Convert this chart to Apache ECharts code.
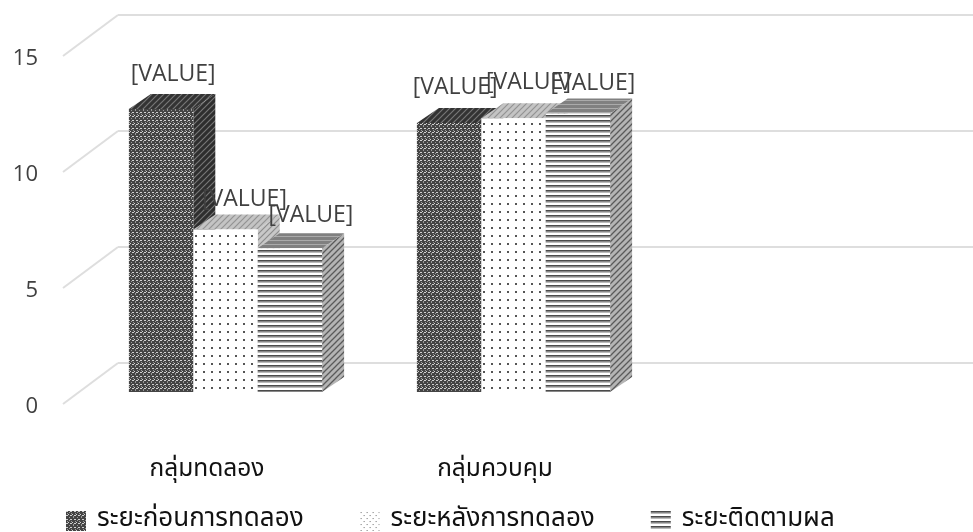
<!DOCTYPE html>
<html>
<head>
<meta charset="utf-8">
<style>html,body{margin:0;padding:0;background:#fff}#chart{width:973px;height:532px}</style>
<script src="https://cdn.jsdelivr.net/npm/echarts@6/dist/echarts.min.js"></script>
</head>
<body>
<div id="chart"></div>
<script>
const categories = ['กลุ่มทดลอง', 'กลุ่มควบคุม', ''];
const periods = ['ระยะก่อนการทดลอง', 'ระยะหลังการทดลอง', 'ระยะติดตามผล'];
const beforeValues = [12.2, 11.6];
const afterValues = [7.0, 11.8];
const followValues = [6.2, 12.0];
const yTicks = [0, 5, 10, 15];
const labelText = '[VALUE]';

const THAI = '"Noto Sans Thai", "Noto Sans", sans-serif';

// small repeating tiles for the office style fills
function tile(w, h, draw) {
  const c = document.createElement('canvas');
  c.width = w;
  c.height = h;
  const g = c.getContext('2d');
  draw(g);
  return {image: c, repeat: 'repeat'};
}
function diag(bg, fg, lw) {
  return tile(6, 6, g => {
    g.fillStyle = bg;
    g.fillRect(0, 0, 6, 6);
    g.strokeStyle = fg;
    g.lineWidth = lw;
    g.beginPath();
    g.moveTo(-1, 7); g.lineTo(7, -1);
    g.moveTo(-4, 4); g.lineTo(4, -4);
    g.moveTo(2, 10); g.lineTo(10, 2);
    g.stroke();
  });
}
const meshFill = tile(8, 8, g => {
  g.fillStyle = '#444';
  g.fillRect(0, 0, 8, 8);
  g.fillStyle = '#d0d0d0';
  g.fillRect(0, 0, 2, 1); g.fillRect(4, 0, 2, 1);
  g.fillRect(2, 3, 1, 1); g.fillRect(6, 3, 1, 1);
  g.fillRect(0, 4, 2, 1); g.fillRect(4, 4, 2, 1);
  g.fillStyle = '#999';
  g.fillRect(1, 2, 1, 1); g.fillRect(5, 2, 1, 1);
  g.fillRect(3, 6, 1, 1); g.fillRect(7, 6, 1, 1);
  g.fillRect(3, 1, 1, 1); g.fillRect(7, 5, 1, 1);
});
const dotFill = tile(16, 16, g => {
  g.fillStyle = '#fff';
  g.fillRect(0, 0, 16, 16);
  g.fillStyle = '#555';
  g.fillRect(3, 3, 2, 2);
  g.fillRect(11, 3, 2, 2);
  g.fillRect(3, 11, 2, 2);
  g.fillRect(11, 11, 2, 2);
});
const legendDotFill = tile(6, 6, g => {
  g.fillStyle = '#fff';
  g.fillRect(0, 0, 6, 6);
  g.fillStyle = '#777';
  g.fillRect(1, 1, 1, 1);
  g.fillRect(4, 4, 1, 1);
});
const stripeFill = tile(4, 5, g => {
  g.fillStyle = '#fff';
  g.fillRect(0, 0, 4, 5);
  g.fillStyle = '#4a4a4a';
  g.fillRect(0, 0, 4, 1);
  g.fillStyle = '#888';
  g.fillRect(0, 1, 4, 1);
  g.fillStyle = '#bbb';
  g.fillRect(0, 2, 4, 1);
});
const faces = [
  {front: meshFill, top: diag('#333', '#777', 1.2), side: diag('#2e2e2e', '#777', 1.2)},
  {front: dotFill, top: diag('#c4c4c4', '#939393', 1.2), side: diag('#c8c8c8', '#8c8c8c', 1.2)},
  {front: stripeFill, top: tile(4, 4, g => {
    g.fillStyle = '#808080'; g.fillRect(0, 0, 4, 4);
    g.fillStyle = '#aaa'; g.fillRect(0, 0, 4, 1);
  }), side: diag('#b4b4b4', '#5a5a5a', 1.3)}
];

const BAR_W = 64.4;
const DEPTH_X = 22, DEPTH_Y = 15;
const SHIFT_X = 18.5, SHIFT_Y = 12;
// nudges of the value labels, they overlap in the source so follow it
const labelNudge = [[[12, -35], [6, -35]], [[19, -30], [15, -36]], [[21, -33], [15, -30]]];

function barSeries(name, values, si) {
  return {
    name: name,
    type: 'custom',
    xAxisIndex: 1,
    yAxisIndex: 1,
    itemStyle: {color: faces[si].front},
    data: values.map((v, i) => [i, v]),
    renderItem: (params, api) => {
      const top = api.coord([api.value(0), api.value(1)]);
      const base = api.coord([api.value(0), 0]);
      const cx = top[0] + SHIFT_X + (si - 1) * BAR_W;
      const x0 = cx - BAR_W / 2, x1 = cx + BAR_W / 2;
      const y0 = top[1] - SHIFT_Y, y1 = base[1] - SHIFT_Y;
      const nudge = labelNudge[si][params.dataIndex];
      return {
        type: 'group',
        children: [
          {type: 'polygon', z2: si * 3 + 1, shape: {points: [[x1, y0], [x1 + DEPTH_X, y0 - DEPTH_Y], [x1 + DEPTH_X, y1 - DEPTH_Y], [x1, y1]]},
            style: {fill: faces[si].side}},
          {type: 'polygon', z2: si * 3 + 2, shape: {points: [[x0, y0], [x0 + DEPTH_X, y0 - DEPTH_Y], [x1 + DEPTH_X, y0 - DEPTH_Y], [x1, y0]]},
            style: {fill: faces[si].top}},
          {type: 'rect', z2: si * 3 + 3, shape: {x: x0, y: y0, width: BAR_W, height: y1 - y0},
            style: {fill: faces[si].front}},
          {type: 'text', z2: 100, style: {
            text: labelText, x: cx + nudge[0], y: y0 + nudge[1],
            align: 'center', verticalAlign: 'middle',
            font: '23px "Open Sans", sans-serif', fill: '#404040'
          }}
        ]
      };
    }
  };
}

const chart = echarts.init(document.getElementById('chart'), null, {renderer: 'canvas'});
chart.setOption({
  animation: false,
  backgroundColor: '#fff',
  // back wall, front plane, and a plane for the tick labels which sit a bit under their lines
  grid: [
    {left: 118, right: 0, top: 15, height: 348},
    {left: 63, width: 864, top: 56, height: 348},
    {left: 63, width: 864, top: 59, height: 348}
  ],
  xAxis: [
    {gridIndex: 0, type: 'category', data: categories, show: false},
    {
      gridIndex: 1,
      type: 'category',
      data: categories,
      axisLine: {show: false},
      axisTick: {show: false},
      axisLabel: {margin: 55, fontSize: 24.5, color: '#111', fontFamily: THAI}
    },
    {gridIndex: 2, type: 'category', data: categories, show: false}
  ],
  yAxis: [
    {
      gridIndex: 0,
      type: 'value',
      min: 0,
      max: 15,
      interval: 5,
      axisLine: {show: false},
      axisTick: {show: false},
      axisLabel: {show: false},
      splitLine: {lineStyle: {color: '#dedede', width: 2}}
    },
    {
      gridIndex: 1,
      type: 'value',
      min: 0,
      max: 15,
      interval: 5,
      axisLine: {show: false},
      axisTick: {show: false},
      axisLabel: {show: false},
      splitLine: {show: false}
    },
    {
      gridIndex: 2,
      type: 'value',
      min: 0,
      max: 15,
      interval: 5,
      axisLine: {show: false},
      axisTick: {show: false},
      splitLine: {show: false},
      axisLabel: {margin: 25, fontSize: 22, color: '#404040', fontFamily: '"Open Sans", sans-serif'}
    }
  ],
  legend: {
    data: [
      {name: periods[0]},
      {name: periods[1], itemStyle: {color: legendDotFill}},
      {name: periods[2]}
    ],
    icon: 'rect',
    left: 66,
    top: 508,
    padding: 0,
    itemWidth: 20,
    itemHeight: 20,
    itemGap: 56,
    itemStyle: {borderWidth: 0},
    textStyle: {fontSize: 26, lineHeight: 20, color: '#111', fontFamily: THAI, padding: [0, 0, 0, 6]}
  },
  series: [
    {
      type: 'custom',
      xAxisIndex: 1,
      yAxisIndex: 1,
      silent: true,
      data: yTicks.map(v => [0, v]),
      renderItem: (params, api) => {
        const p = api.coord([0, api.value(1)]);
        const x = p[0] - api.size([1, 0])[0] / 2;
        return {
          type: 'line',
          shape: {x1: x, y1: p[1], x2: x + 55, y2: p[1] - 41},
          style: {stroke: '#dedede', lineWidth: 2}
        };
      }
    },
    barSeries(periods[0], beforeValues, 0),
    barSeries(periods[1], afterValues, 1),
    barSeries(periods[2], followValues, 2)
  ]
});
</script>
</body>
</html>
